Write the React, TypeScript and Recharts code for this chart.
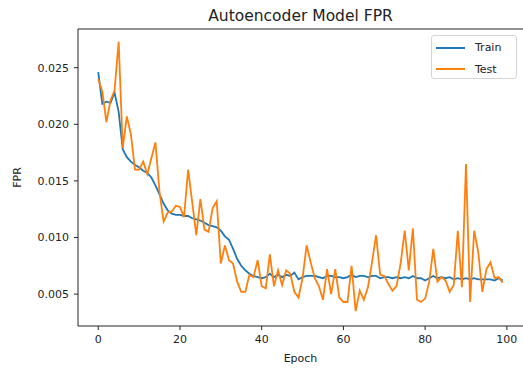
import React from 'react';
import { LineChart, Line, XAxis, YAxis, Legend, ReferenceLine } from 'recharts';

// False-positive rate per training epoch
const trainFpr = [
  0.0246, 0.0218, 0.0220, 0.0219, 0.0228, 0.0211, 0.0178, 0.0171, 0.0167, 0.0164,
  0.0162, 0.0159, 0.0157, 0.0153, 0.0146, 0.0138, 0.0130, 0.0124, 0.0121, 0.0120,
  0.0120, 0.0119, 0.0119, 0.0117, 0.0116, 0.0115, 0.0113, 0.0111, 0.0110, 0.0109,
  0.0106, 0.0101, 0.0098, 0.0090, 0.0081, 0.0075, 0.0071, 0.0068, 0.0066, 0.0065,
  0.0064, 0.0065, 0.0068, 0.0065, 0.0067, 0.0065, 0.0067, 0.0066, 0.0069, 0.0063,
  0.0065, 0.0066, 0.0066, 0.0066, 0.0065, 0.0064, 0.0066, 0.0066, 0.0065, 0.0065,
  0.0064, 0.0065, 0.0067, 0.0065, 0.0066, 0.0066, 0.0065, 0.0066, 0.0066, 0.0064,
  0.0065, 0.0065, 0.0064, 0.0065, 0.0064, 0.0065, 0.0064, 0.0066, 0.0064, 0.0064,
  0.0062, 0.0064, 0.0066, 0.0064, 0.0065, 0.0064, 0.0065, 0.0063, 0.0064, 0.0063,
  0.0064, 0.0063, 0.0064, 0.0063, 0.0063, 0.0063, 0.0063, 0.0062, 0.0064, 0.0062,
];

const testFpr = [
  0.0240, 0.0229, 0.0202, 0.0221, 0.0230, 0.0273, 0.0179, 0.0207, 0.0191, 0.0160,
  0.0160, 0.0167, 0.0156, 0.0170, 0.0184, 0.0140, 0.0114, 0.0122, 0.0123, 0.0128,
  0.0127, 0.0118, 0.0160, 0.0131, 0.0102, 0.0134, 0.0107, 0.0105, 0.0126, 0.0132,
  0.0077, 0.0093, 0.0080, 0.0077, 0.0061, 0.0052, 0.0052, 0.0067, 0.0065, 0.0080,
  0.0057, 0.0055, 0.0085, 0.0057, 0.0071, 0.0058, 0.0071, 0.0068, 0.0052, 0.0047,
  0.0064, 0.0093, 0.0078, 0.0064, 0.0057, 0.0045, 0.0072, 0.0050, 0.0072, 0.0047,
  0.0043, 0.0043, 0.0075, 0.0035, 0.0053, 0.0045, 0.0056, 0.0078, 0.0102, 0.0067,
  0.0066, 0.0059, 0.0053, 0.0057, 0.0077, 0.0106, 0.0071, 0.0108, 0.0045, 0.0043,
  0.0046, 0.0061, 0.0090, 0.0061, 0.0065, 0.0062, 0.0052, 0.0058, 0.0106, 0.0056,
  0.0165, 0.0043, 0.0106, 0.0087, 0.0052, 0.0072, 0.0078, 0.0064, 0.0065, 0.0060,
];

const seriesNames = ['Train', 'Test'];
const epochTicks = [0, 20, 40, 60, 80, 100];
const fprTicks = [0.005, 0.01, 0.015, 0.02, 0.025];
const epochDomain: [number, number] = [-4.95, 103.95];
const fprDomain: [number, number] = [0.00218, 0.02842];

const data = trainFpr.map((train, epoch) => ({ epoch, train, test: testFpr[epoch] }));

const FONT = 'DejaVu Sans';
const INK = '#222';

const TitleLabel = (props: any) => {
  const { viewBox } = props;
  return (
    <text
      x={viewBox.x + viewBox.width / 2}
      y={viewBox.y - 8}
      textAnchor="middle"
      fontFamily={FONT}
      fontSize={15.5}
      fill={INK}
    >
      Autoencoder Model FPR
    </text>
  );
};

const EpochLabel = (props: any) => {
  const { viewBox } = props;
  return (
    <text
      x={viewBox.x + viewBox.width / 2}
      y={viewBox.y + 36}
      textAnchor="middle"
      fontFamily={FONT}
      fontSize={11}
      fill={INK}
    >
      Epoch
    </text>
  );
};

const FprLabel = (props: any) => {
  const { viewBox } = props;
  const x = 21;
  const y = viewBox.y + viewBox.height / 2;
  return (
    <text
      x={x}
      y={y}
      transform={`rotate(-90 ${x} ${y})`}
      textAnchor="middle"
      fontFamily={FONT}
      fontSize={11}
      fill={INK}
    >
      FPR
    </text>
  );
};

const LegendBox = (props: any) => {
  const payload = [...(props.payload || [])].sort(
    (a: any, b: any) => seriesNames.indexOf(a.value) - seriesNames.indexOf(b.value)
  );
  return (
    <div
      style={{
        width: 86,
        height: 44,
        boxSizing: 'border-box',
        border: '1px solid #d4d4d4',
        borderRadius: 3,
        background: 'rgba(255,255,255,0.8)',
        fontFamily: FONT,
        fontSize: 11,
        position: 'relative',
      }}
    >
      {payload.map((entry: any, i: number) => (
        <div
          key={entry.value}
          style={{
            position: 'absolute',
            left: 4,
            top: 5 + i * 21.5,
            height: 13,
            display: 'flex',
            alignItems: 'center',
          }}
        >
          <div style={{ width: 29, height: 0, borderTop: `2px solid ${entry.color}` }} />
          <span style={{ marginLeft: 10, color: INK, lineHeight: '13px' }}>{entry.value}</span>
        </div>
      ))}
    </div>
  );
};

export default function App() {
  const tickStyle = { fill: INK, fontSize: 11, fontFamily: FONT };
  return (
    <div style={{ position: 'absolute', left: 0, top: 0, background: '#fff' }}>
      <LineChart
        width={523}
        height={369}
        data={data}
        margin={{ top: 29, right: 0, bottom: 17, left: 0 }}
      >
        <XAxis
          dataKey="epoch"
          type="number"
          domain={epochDomain}
          allowDataOverflow
          ticks={epochTicks}
          interval={0}
          height={26}
          tickSize={4}
          tickMargin={5}
          axisLine={{ stroke: INK, strokeWidth: 1 }}
          tickLine={{ stroke: INK, strokeWidth: 1 }}
          tick={tickStyle}
          label={EpochLabel}
        />
        <YAxis
          type="number"
          domain={fprDomain}
          allowDataOverflow
          ticks={fprTicks}
          interval={0}
          width={78}
          tickSize={4}
          tickMargin={5}
          tickFormatter={(v: number) => v.toFixed(3)}
          axisLine={{ stroke: INK, strokeWidth: 1 }}
          tickLine={{ stroke: INK, strokeWidth: 1 }}
          tick={tickStyle}
          label={FprLabel}
        />
        {/* top spine of the axes frame, carrying the chart title */}
        <ReferenceLine
          y={fprDomain[1]}
          stroke={INK}
          strokeWidth={1}
          ifOverflow="visible"
          label={TitleLabel}
        />
        <Legend
          layout="vertical"
          align="center"
          verticalAlign="middle"
          itemSorter={null as any}
          content={LegendBox}
          wrapperStyle={{ left: 431, top: 35, width: 86, height: 44 }}
        />
        <Line
          dataKey="train"
          name="Train"
          stroke="#1f77b4"
          strokeWidth={1.8}
          dot={false}
          activeDot={false}
          isAnimationActive={false}
        />
        <Line
          dataKey="test"
          name="Test"
          stroke="#ff7f0e"
          strokeWidth={1.8}
          dot={false}
          activeDot={false}
          isAnimationActive={false}
        />
      </LineChart>
    </div>
  );
}
